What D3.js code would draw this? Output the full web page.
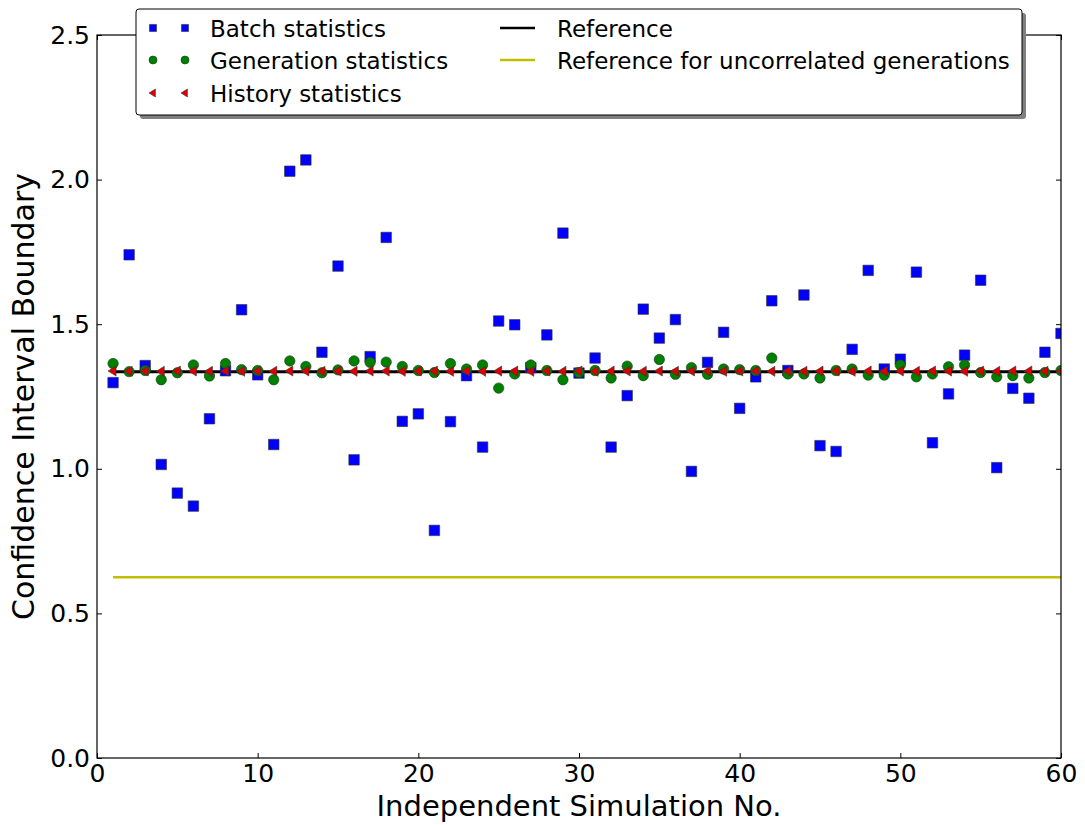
<!DOCTYPE html>
<meta charset="utf-8">
<script src="https://d3js.org/d3.v7.min.js"></script>
<style>
  body { margin: 0; background: #fff; }
  text { font-family: "DejaVu Sans", sans-serif; }
</style>
<div id="chart"></div>
<script>
// simulation numbers 1..60
var sims = [1,2,3,4,5,6,7,8,9,10,11,12,13,14,15,16,17,18,19,20,
            21,22,23,24,25,26,27,28,29,30,31,32,33,34,35,36,37,38,39,40,
            41,42,43,44,45,46,47,48,49,50,51,52,53,54,55,56,57,58,59,60];

var batchStats = [1.298,1.740,1.357,1.015,0.916,0.871,1.173,1.339,1.550,1.325,
                  1.084,2.029,2.068,1.403,1.701,1.031,1.388,1.800,1.164,1.190,
                  0.787,1.163,1.322,1.075,1.511,1.498,1.350,1.463,1.815,1.331,
                  1.383,1.075,1.253,1.552,1.452,1.516,0.991,1.368,1.472,1.209,
                  1.318,1.581,1.340,1.601,1.080,1.060,1.413,1.686,1.345,1.379,
                  1.680,1.090,1.259,1.393,1.652,1.004,1.278,1.244,1.403,1.468];

var generationStats = [1.364,1.336,1.340,1.308,1.332,1.359,1.321,1.364,1.343,1.340,
                       1.308,1.373,1.354,1.332,1.342,1.373,1.368,1.369,1.354,1.340,
                       1.333,1.364,1.345,1.359,1.279,1.328,1.359,1.340,1.308,1.333,
                       1.340,1.314,1.355,1.322,1.378,1.327,1.350,1.327,1.345,1.343,
                       1.340,1.383,1.328,1.328,1.314,1.340,1.345,1.324,1.324,1.359,
                       1.318,1.328,1.353,1.359,1.333,1.318,1.322,1.314,1.333,1.340];

var historyStats = [1.338,1.337,1.338,1.337,1.338,1.338,1.337,1.338,1.337,1.338,
                    1.337,1.338,1.338,1.337,1.338,1.337,1.338,1.338,1.337,1.338,
                    1.338,1.337,1.338,1.337,1.338,1.338,1.337,1.338,1.337,1.338,
                    1.337,1.338,1.338,1.337,1.338,1.337,1.338,1.338,1.337,1.338,
                    1.338,1.337,1.338,1.337,1.338,1.338,1.337,1.338,1.337,1.338,
                    1.337,1.338,1.338,1.337,1.338,1.337,1.338,1.338,1.337,1.338];

var refValue = 1.336;
var refUncorrelated = 0.625;

var xTicks = [0,10,20,30,40,50,60];
var yTicks = [0.0,0.5,1.0,1.5,2.0,2.5];

var margin = {top: 35, right: 24, bottom: 67, left: 97},
    width = 1085 - margin.left - margin.right,
    height = 825 - margin.top - margin.bottom;

var svg = d3.select("#chart")
  .append("svg")
    .attr("width", 1085)
    .attr("height", 825);

var g = svg.append("g")
    .attr("transform", "translate(" + margin.left + "," + margin.top + ")");

var x = d3.scaleLinear().domain([0, 60]).range([0, width]);
var y = d3.scaleLinear().domain([0, 2.5]).range([height, 0]);

g.append("clipPath").attr("id", "clip")
  .append("rect").attr("width", width).attr("height", height);

var plot = g.append("g").attr("clip-path", "url(#clip)");

// reference lines
var line = d3.line().x(d => x(d[0])).y(d => y(d[1]));
plot.append("path")
    .datum([[sims[0], refValue], [sims[sims.length - 1], refValue]])
    .attr("d", line).attr("stroke", "#000").attr("stroke-width", 3).attr("fill", "none");
plot.append("path")
    .datum([[sims[0], refUncorrelated], [sims[sims.length - 1], refUncorrelated]])
    .attr("d", line).attr("stroke", "#bfbf00").attr("stroke-width", 2.5).attr("fill", "none");

var sq = d3.symbol().type(d3.symbolSquare).size(110);
var circ = d3.symbol().type(d3.symbolCircle).size(85);
// left pointing triangle
function triLeft(r) {
  return "M" + (-r) + ",0L" + (r * 0.6) + "," + (-r) + "L" + (r * 0.6) + "," + r + "Z";
}

plot.selectAll(".batch")
  .data(sims.map((s, i) => [s, batchStats[i]]))
  .enter().append("path")
    .attr("d", sq)
    .attr("transform", d => "translate(" + x(d[0]) + "," + y(d[1]) + ")")
    .attr("fill", "#0000ff").attr("stroke", "#333").attr("stroke-width", 0.6);

plot.selectAll(".gen")
  .data(sims.map((s, i) => [s, generationStats[i]]))
  .enter().append("path")
    .attr("d", circ)
    .attr("transform", d => "translate(" + x(d[0]) + "," + y(d[1]) + ")")
    .attr("fill", "#008000").attr("stroke", "#1a3a1a").attr("stroke-width", 0.6);

plot.selectAll(".hist")
  .data(sims.map((s, i) => [s, historyStats[i]]))
  .enter().append("path")
    .attr("d", triLeft(5))
    .attr("transform", d => "translate(" + x(d[0]) + "," + y(d[1]) + ")")
    .attr("fill", "#dd0000").attr("stroke", "#333").attr("stroke-width", 0.6);

// frame
g.append("rect").attr("width", width).attr("height", height)
  .attr("fill", "none").attr("stroke", "#000").attr("stroke-width", 1.2);

// axes, ticks inward
var fs = "25px";
var xb = g.append("g").attr("transform", "translate(0," + height + ")")
  .call(d3.axisBottom(x).tickValues(xTicks).tickSizeInner(-5).tickSizeOuter(0).tickPadding(6).tickFormat(d3.format("d")));
var xt = g.append("g")
  .call(d3.axisTop(x).tickValues(xTicks).tickSizeInner(-5).tickSizeOuter(0).tickFormat(""));
var yl = g.append("g")
  .call(d3.axisLeft(y).tickValues(yTicks).tickSizeInner(-5).tickSizeOuter(0).tickPadding(7).tickFormat(d3.format(".1f")));
var yr = g.append("g").attr("transform", "translate(" + width + ",0)")
  .call(d3.axisRight(y).tickValues(yTicks).tickSizeInner(-5).tickSizeOuter(0).tickFormat(""));
[xb, xt, yl, yr].forEach(a => {
  a.select(".domain").remove();
  a.selectAll("text").style("font-size", fs).attr("fill", "#000")
    .style("font-family", "'DejaVu Sans', sans-serif");
});

// axis labels
svg.append("text")
  .attr("x", margin.left + width / 2).attr("y", 816)
  .attr("text-anchor", "middle").style("font-size", "29px")
  .text("Independent Simulation No.");
svg.append("text")
  .attr("transform", "translate(34," + (margin.top + height / 2) + ") rotate(-90)")
  .attr("text-anchor", "middle").style("font-size", "30px")
  .text("Confidence Interval Boundary");

// legend
var leg = svg.append("g").attr("transform", "translate(136,9)");
leg.append("rect").attr("x", 4).attr("y", 4).attr("width", 886).attr("height", 106)
  .attr("rx", 3).attr("fill", "#808080");
leg.append("rect").attr("width", 886).attr("height", 106)
  .attr("rx", 3).attr("fill", "#fff").attr("stroke", "#000").attr("stroke-width", 1);

var legMarkers = [
  {name: "Batch statistics", shape: "sq"},
  {name: "Generation statistics", shape: "circ"},
  {name: "History statistics", shape: "tri"}
];
var legLines = [
  {name: "Reference", color: "#000"},
  {name: "Reference for uncorrelated generations", color: "#bfbf00"}
];
var rowY = [19, 51, 84];

legMarkers.forEach((m, i) => {
  [17, 49].forEach(mx => {
    var p = leg.append("path")
      .attr("transform", "translate(" + mx + "," + rowY[i] + ")")
      .attr("stroke-width", 0.6);
    if (m.shape === "sq") p.attr("d", d3.symbol().type(d3.symbolSquare).size(50)()).attr("fill", "#0000ff").attr("stroke", "#333");
    else if (m.shape === "circ") p.attr("d", d3.symbol().type(d3.symbolCircle).size(50)()).attr("fill", "#008000").attr("stroke", "#1a3a1a");
    else p.attr("d", triLeft(4)).attr("fill", "#dd0000").attr("stroke", "#333");
  });
  leg.append("text").attr("x", 74).attr("y", rowY[i] + 9)
    .style("font-size", "23px").text(m.name);
});
legLines.forEach((l, i) => {
  leg.append("line").attr("x1", 364).attr("x2", 399)
    .attr("y1", rowY[i]).attr("y2", rowY[i])
    .attr("stroke", l.color).attr("stroke-width", 2.5);
  leg.append("text").attr("x", 421).attr("y", rowY[i] + 9)
    .style("font-size", "23px").text(l.name);
});
</script>
